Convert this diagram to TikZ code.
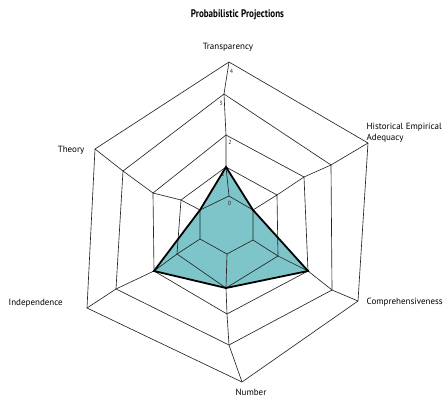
\documentclass[tikz,border=0pt]{standalone}
\usepackage{fontspec}
\setmainfont{PT Sans}
\begin{document}
\begin{tikzpicture}[x=1pt,y=-1pt,
  gridline/.style={draw=black!85,line width=0.65pt,line join=miter},
  dataline/.style={draw=black,line width=1.8pt,line join=miter},
  axlabel/.style={font=\fontsize{9}{11}\selectfont,inner sep=0pt},
  ticklabel/.style={font=\fontsize{6}{6}\selectfont,inner sep=0pt,text=black!85}]
\useasboundingbox (0,0) rectangle (448,397);
\definecolor{teal}{HTML}{7DC5C8}
% ring vertices: T H C N I Th
\coordinate (r0T) at (229,196); \coordinate (r0H) at (253,210); \coordinate (r0C) at (253,240);
\coordinate (r0N) at (227,254); \coordinate (r0I) at (200,239); \coordinate (r0Th) at (200,210);
\coordinate (r1T) at (226,167); \coordinate (r1H) at (277,195); \coordinate (r1C) at (278,256);
\coordinate (r1N) at (226,288); \coordinate (r1I) at (177,254); \coordinate (r1Th) at (181,200);
\coordinate (r2T) at (226,135); \coordinate (r2H) at (304,177); \coordinate (r2C) at (308,271);
\coordinate (r2N) at (227,314); \coordinate (r2I) at (154,271); \coordinate (r2Th) at (153,193);
\coordinate (r3T) at (224,94); \coordinate (r3H) at (331,165); \coordinate (r3C) at (332,290);
\coordinate (r3N) at (229,345); \coordinate (r3I) at (116,289); \coordinate (r3Th) at (123,171);
\coordinate (r4T) at (229,62); \coordinate (r4H) at (368,143); \coordinate (r4C) at (358,301);
\coordinate (r4N) at (242,382); \coordinate (r4I) at (87,308); \coordinate (r4Th) at (95,149);
% data fill
\fill[teal] (r1T) -- (r0H) -- (r2C) -- (r1N) -- (r2I) -- (r0Th) -- cycle;
% rings
\foreach \r in {0,...,4}{
  \path[gridline] (r\r T) -- (r\r H) -- (r\r C) -- (r\r N) -- (r\r I) -- (r\r Th) -- cycle;
}
% spokes
\foreach \a in {T,H,C,N,I,Th}{
  \path[gridline] (r0\a) -- (r1\a) -- (r2\a) -- (r3\a) -- (r4\a);
}
% tick labels
\node[ticklabel] (t0) at (229.5,203) {0};
\node[ticklabel] (t1) at (223,174) {1};
\node[ticklabel] (t2) at (230,142) {2};
\node[ticklabel] (t3) at (221,103) {3};
\node[ticklabel] (t4) at (231.5,71) {4};
% data outline
\path[dataline] (r1T) -- (r0H) -- (r2C) -- (r1N) -- (r2I) -- (r0Th) -- cycle;
% labels
\node[font=\bfseries\fontsize{11}{13}\selectfont,inner sep=0pt] (title) at (237.5,15) {\scalebox{0.82}[1]{Probabilistic Projections}};
\node[axlabel] (lT) at (228,47) {Transparency};
\node[axlabel,anchor=west,align=left] (lH) at (366.5,132.5) {Historical Empirical\\Adequacy};
\node[axlabel,anchor=west] (lC) at (366.5,302) {Comprehensiveness};
\node[axlabel] (lN) at (251,392) {Number};
\node[axlabel,anchor=west] (lI) at (8.5,303) {Independence};
\node[axlabel,anchor=east] (lTh) at (84.5,150) {Theory};
\end{tikzpicture}
\end{document}
